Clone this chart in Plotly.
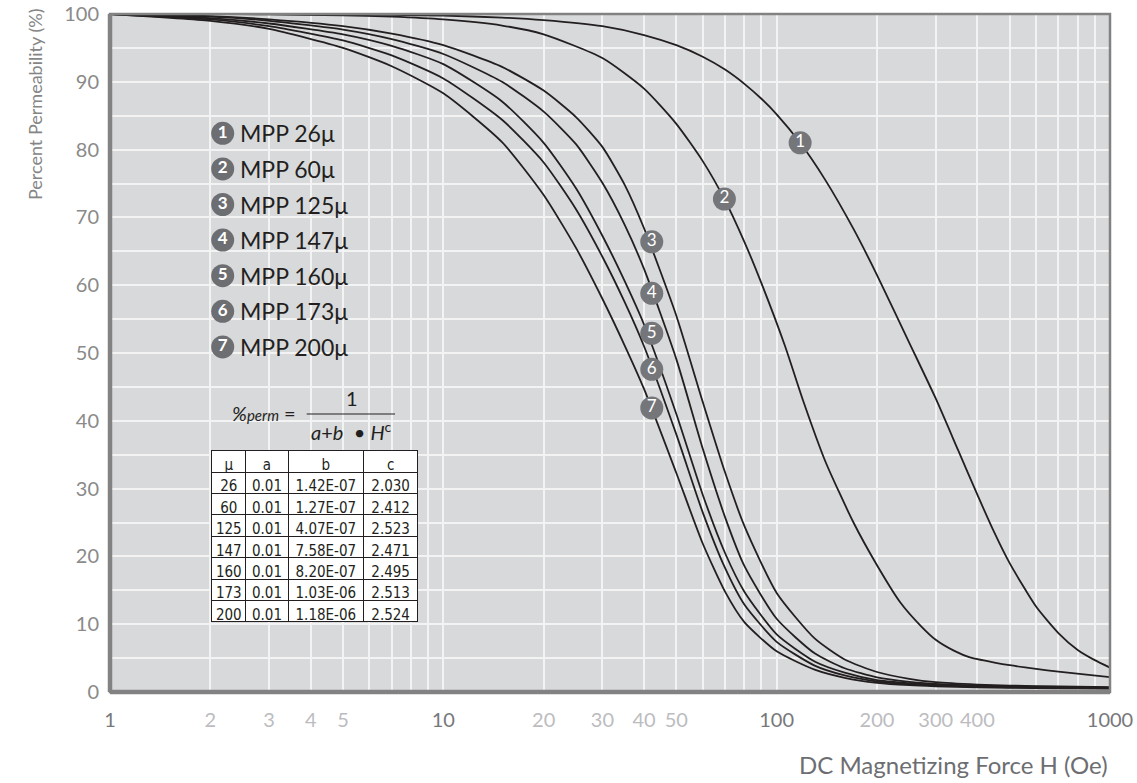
import plotly.graph_objects as go

# ---------------- data ----------------
H_26 = [1, 2, 3, 5, 7, 10, 15, 20, 30, 40, 50, 60, 70, 80, 90, 100, 117.6, 140, 170, 200, 250, 300, 350, 400, 450, 500, 600, 700, 800, 900, 1000]
mpp_26 = [100, 99.99, 99.97, 99.93, 99.87, 99.75, 99.48, 99.1, 98.2, 96.9, 95.4, 93.7, 91.8, 89.7, 87.5, 85.2, 81.0, 75.5, 68.3, 61.5, 51.5, 43.3, 35.7, 29.1, 23.5, 19.0, 12.6, 8.7, 6.2, 4.7, 3.6]

H_60 = [1, 2, 3, 5, 7, 10, 15, 20, 30, 40, 50, 60, 69.7, 80, 90, 106, 120, 140, 170, 200, 235, 270, 300, 340, 380, 450, 500, 600, 700, 850, 1000]
mpp_60 = [100, 99.98, 99.95, 99.8, 99.6, 99.2, 98.3, 97.0, 93.5, 89.0, 83.8, 78.3, 72.7, 66.4, 60.3, 51.0, 43.0, 34.0, 25.0, 18.7, 13.2, 9.8, 7.7, 6.1, 5.1, 4.35, 3.95, 3.4, 3.0, 2.55, 2.2]

H_grp = [1, 2, 3, 5, 7, 10, 15, 20, 25, 30, 35, 40, 50, 60, 70, 80, 100, 130, 160, 200, 250, 300, 400, 500, 700, 1000]
mpp_125 = [100, 99.7, 99.2, 98.2, 97.1, 95.4, 92.2, 88.7, 84.8, 80.4, 74.8, 68.4, 55.5, 42.8, 32.4, 24.5, 14.6, 7.9, 4.8, 2.95, 1.95, 1.45, 1.1, 0.95, 0.82, 0.72]
mpp_147 = [100, 99.6, 99.0, 97.7, 96.3, 94.1, 90.0, 85.6, 80.8, 75.1, 68.9, 62.4, 49.1, 35.9, 25.8, 18.6, 10.8, 5.7, 3.5, 2.15, 1.5, 1.2, 0.95, 0.85, 0.75, 0.65]
mpp_160 = [100, 99.4, 98.6, 97.0, 95.3, 92.6, 87.1, 81.0, 74.3, 67.3, 60.6, 54.2, 41.0, 29.1, 20.5, 14.8, 8.5, 4.5, 2.85, 1.75, 1.3, 1.05, 0.88, 0.78, 0.68, 0.6]
mpp_173 = [100, 99.2, 98.2, 96.1, 93.9, 90.5, 84.4, 78.1, 71.2, 64.2, 57.5, 51.0, 38.0, 26.5, 18.3, 12.9, 7.4, 3.9, 2.45, 1.55, 1.15, 0.95, 0.8, 0.7, 0.62, 0.55]
mpp_200 = [100, 99.0, 97.8, 95.0, 92.3, 88.3, 81.1, 73.3, 65.5, 58.0, 51.1, 44.7, 32.3, 21.9, 14.8, 10.3, 6.0, 3.3, 2.1, 1.35, 1.0, 0.85, 0.7, 0.62, 0.55, 0.5]

series_names = ["MPP 26μ", "MPP 60μ", "MPP 125μ", "MPP 147μ", "MPP 160μ", "MPP 173μ", "MPP 200μ"]
series_x = [H_26, H_60, H_grp, H_grp, H_grp, H_grp, H_grp]
series_values = [mpp_26, mpp_60, mpp_125, mpp_147, mpp_160, mpp_173, mpp_200]

label_nums = ["1", "2", "3", "4", "5", "6", "7"]
label_H = [117.6, 69.7, 42.2, 42.2, 42.2, 42.2, 42.2]
label_val = [81, 72.7, 66.4, 58.8, 52.9, 47.6, 41.9]

table_mu = ["26", "60", "125", "147", "160", "173", "200"]
table_a = ["0.01", "0.01", "0.01", "0.01", "0.01", "0.01", "0.01"]
table_b = ["1.42E-07", "1.27E-07", "4.07E-07", "7.58E-07", "8.20E-07", "1.03E-06", "1.18E-06"]
table_c = ["2.030", "2.412", "2.523", "2.471", "2.495", "2.513", "2.524"]

x_tick_vals = [1, 2, 3, 4, 5, 10, 20, 30, 40, 50, 100, 200, 300, 400, 1000]
x_major = [1, 10, 100, 1000]
y_tick_vals = [0, 10, 20, 30, 40, 50, 60, 70, 80, 90, 100]

# ---------------- styling ----------------
FONT = "Lato, 'Open Sans', sans-serif"
DARK = "#231f20"
BG = "#d8d9db"
GRID = "#f3f3f4"
FRAME = "#828282"

# plot area in page pixels
L, R, T, B = 110, 1110, 14, 692
W, HGT = 1137, 783


def px(xp):
    return (xp - L) / (R - L)


def py(yp):
    return (B - yp) / (B - T)


fig = go.Figure()

for name, xs, vals in zip(series_names, series_x, series_values):
    fig.add_trace(go.Scatter(
        x=xs, y=vals, mode="lines", name=name,
        line=dict(color=DARK, width=1.8, shape="spline", smoothing=0.6),
        showlegend=False, hoverinfo="skip"))

# numbered markers on the curves
fig.add_trace(go.Scatter(
    x=label_H, y=label_val, mode="markers+text", text=label_nums,
    textposition="middle center",
    textfont=dict(family=FONT, size=17, color="white"),
    marker=dict(size=23, color="#75767a", line=dict(width=0)),
    showlegend=False, hoverinfo="skip", cliponaxis=False))

# legend badges on an overlay axis in plot-area units
leg_y0 = 133.3
leg_dy = 35.6
leg_x = [px(222.7)] * len(series_names)
leg_y = [py(leg_y0 + i * leg_dy) for i in range(len(series_names))]
fig.add_trace(go.Scatter(
    x=leg_x, y=leg_y, xaxis="x2", yaxis="y2", mode="markers+text",
    text=["<b>%s</b>" % n for n in label_nums], textposition="middle center",
    textfont=dict(family=FONT, size=17, color="white"),
    marker=dict(size=23, color="#6d6e71", line=dict(width=0)),
    showlegend=False, hoverinfo="skip", cliponaxis=False))

annotations = []
for i, name in enumerate(series_names):
    annotations.append(dict(
        x=px(238), y=leg_y[i], xref="paper", yref="paper", xanchor="left", yanchor="middle",
        text=name, showarrow=False, font=dict(family=FONT, size=23, color=DARK)))

# formula
annotations.append(dict(
    x=px(298), y=py(413), xref="paper", yref="paper", xanchor="right", yanchor="middle",
    text="<i>%<span style='font-size:15px'>perm</span></i> =", showarrow=False,
    font=dict(family=FONT, size=20, color=DARK)))
annotations.append(dict(
    x=px(351.5), y=py(398), xref="paper", yref="paper", xanchor="center", yanchor="middle",
    text="1", showarrow=False, font=dict(family=FONT, size=20, color=DARK)))
annotations.append(dict(
    x=px(351), y=py(431), xref="paper", yref="paper", xanchor="center", yanchor="middle",
    text="<i>a</i>+<i>b</i>  • <i>H</i><sup>c</sup>", showarrow=False,
    font=dict(family=FONT, size=20, color=DARK)))

# axis titles
annotations.append(dict(
    x=px(35), y=py(104), xref="paper", yref="paper", xanchor="center", yanchor="middle",
    text="Percent Permeability (%)", textangle=-90, showarrow=False,
    font=dict(family=FONT, size=18, color="#858585")))
annotations.append(dict(
    x=1.0, y=py(764), xref="paper", yref="paper", xanchor="right", yanchor="middle",
    text="DC Magnetizing Force H (Oe)", showarrow=False,
    font=dict(family=FONT, size=24, color="#6d6e71")))

# table of formula coefficients
TFONT = dict(family="'Liberation Sans Narrow', 'DejaVu Sans Condensed', Lato, sans-serif", size=15, color=DARK)
fig.add_trace(go.Table(
    domain=dict(x=[px(211.7), px(418.3)], y=[py(640), py(450.7)]),
    columnwidth=[34.3, 42.3, 75.7, 54.3],
    header=dict(values=["μ", "a", "b", "c"], height=21.4, align="center",
                fill_color="white", line=dict(color=DARK, width=1), font=TFONT),
    cells=dict(values=[table_mu, table_a, table_b, table_c], height=21.4,
               align="center", fill_color="white", line=dict(color=DARK, width=1), font=TFONT)))

# frame
shapes = [
    dict(type="rect", xref="paper", yref="paper", x0=0, x1=1, y0=0, y1=1,
         line=dict(color=FRAME, width=2.5), layer="above"),
    dict(type="line", xref="paper", yref="paper", x0=0, x1=0, y0=0, y1=1,
         line=dict(color=FRAME, width=4.5), layer="above"),
    dict(type="line", xref="paper", yref="paper", x0=0, x1=1, y0=0, y1=0,
         line=dict(color=FRAME, width=4.5), layer="above"),
    # fraction bar of the formula
    dict(type="line", xref="paper", yref="paper", x0=px(306.7), x1=px(395), y0=py(414), y1=py(414),
         line=dict(color=DARK, width=1.2), layer="above"),
]

x_ticktext = []
for v in x_tick_vals:
    col = "#77787b" if v in x_major else "#bcbcbf"
    x_ticktext.append("<span style='color:%s'>%d</span>" % (col, v))

grid_x = []
for dec in [1, 10, 100]:
    for m in range(1, 10):
        grid_x.append(m * dec)
grid_x.append(1000)

fig.update_layout(
    width=W, height=HGT,
    margin=dict(l=L, r=W - R, t=T, b=HGT - B, pad=0),
    paper_bgcolor="white", plot_bgcolor=BG,
    font=dict(family=FONT, color="#888888"),
    showlegend=False,
    annotations=annotations, shapes=shapes,
    xaxis=dict(type="log", range=[0, 3], tickvals=x_tick_vals, ticktext=x_ticktext,
               showgrid=True, gridcolor=GRID, gridwidth=1.6,
               ticks="outside", ticklen=10, tickcolor="rgba(0,0,0,0)",
               tickfont=dict(family=FONT, size=20),
               minor=dict(tickvals=grid_x, showgrid=True, gridcolor=GRID, gridwidth=1.6, ticks=""),
               showline=False, zeroline=False, fixedrange=True, automargin=False),
    yaxis=dict(range=[0, 100], tickvals=y_tick_vals,
               showgrid=True, gridcolor=GRID, gridwidth=1.6,
               minor=dict(dtick=5, showgrid=True, gridcolor=GRID, gridwidth=1.6, ticks=""),
               ticks="outside", ticklen=6, tickcolor="rgba(0,0,0,0)",
               tickfont=dict(family=FONT, size=20, color="#8a8a8a"),
               showline=False, zeroline=False, fixedrange=True, automargin=False),
    xaxis2=dict(range=[0, 1], overlaying="x", visible=False, fixedrange=True),
    yaxis2=dict(range=[0, 1], overlaying="y", visible=False, fixedrange=True),
)

# the page's default 8px body margin would shift the figure; remove it
fig.write_html("out.html", config={"displayModeBar": False},
               post_script="document.body.style.margin='0px';")
